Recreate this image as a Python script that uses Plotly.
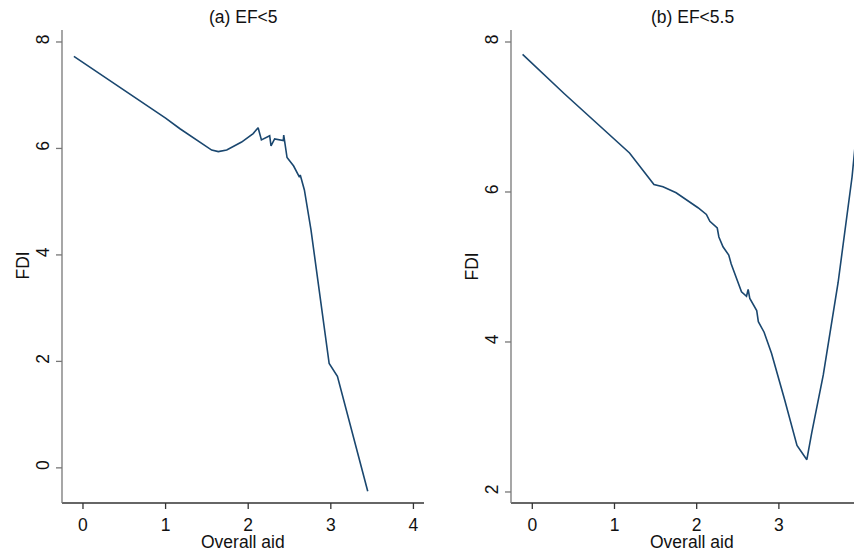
import plotly.graph_objects as go

# Panel (a) EF<5
aid_a = [-0.11, 1.0, 1.174, 1.558, 1.638, 1.74, 1.92, 2.06, 2.12, 2.16, 2.26, 2.276, 2.32,
         2.425, 2.43, 2.44, 2.47, 2.55, 2.61, 2.62, 2.63, 2.68, 2.76, 2.87, 2.98, 3.08, 3.447]
fdi_a = [7.73, 6.57, 6.37, 5.97, 5.94, 5.97, 6.12, 6.28, 6.39, 6.16, 6.24, 6.05, 6.18,
         6.15, 6.25, 6.14, 5.83, 5.67, 5.50, 5.46, 5.50, 5.22, 4.47, 3.21, 1.96, 1.72, -0.44]

# Panel (b) EF<5.5
aid_b = [-0.118, 0.39, 1.183, 1.48, 1.59, 1.75, 2.016, 2.118, 2.16, 2.25, 2.27, 2.32, 2.39,
         2.42, 2.545, 2.606, 2.626, 2.646, 2.73, 2.75, 2.82, 2.91, 3.07, 3.22, 3.34, 3.40,
         3.54, 3.72, 3.89, 4.02]
fdi_b = [7.835, 7.31, 6.52, 6.10, 6.07, 5.99, 5.79, 5.70, 5.61, 5.52, 5.40, 5.27, 5.16,
         5.04, 4.67, 4.61, 4.70, 4.58, 4.42, 4.27, 4.13, 3.85, 3.23, 2.62, 2.43, 2.79,
         3.56, 4.79, 6.20, 7.66]

titles = ["(a) EF<5", "(b) EF<5.5"]
x_title = "Overall aid"
y_title = "FDI"
x_ticks = [0, 1, 2, 3, 4]
y_ticks_a = [0, 2, 4, 6, 8]
y_ticks_b = [2, 4, 6, 8]

# axis extents (frame) of each panel
xext_a, yext_a = [-0.254, 4.128], [-0.66, 8.225]
xext_b, yext_b = [-0.259, 4.011], [1.853, 8.16]

OFF = 8          # page body margin
W, H = 862 - OFF, 554 - OFF
E = 8            # extra plot room (px) left of / below each frame for outside ticks
FX_A, FR_A = 62, 424    # frame left/right page x, panel a
FX_B, FR_B = 511, 862   # panel b
FT, FB = 30, 503        # frame top/bottom page y

ML, MR, MT = FX_A - E - OFF, 0, FT - OFF
MB = H - (FB + E - OFF)
PW, PH = W - ML - MR, H - MT - MB
LINE = "#1a476f"
FONT = "Liberation Sans, Arial, sans-serif"
FS = 17.5
XCOL, YCOL = "#333333", "#777777"
TL = 6           # tick length px


def ppx(v):
    return (v - OFF - ML) / PW


def ppy(v):
    return 1 - (v - OFF - MT) / PH


def extended(xext, yext, fx, fr):
    ux = (xext[1] - xext[0]) / (fr - fx)
    uy = (yext[1] - yext[0]) / (FB - FT)
    return [xext[0] - E * ux, xext[1]], [yext[0] - E * uy, yext[1]], ux, uy


xr_a, yr_a, ux_a, uy_a = extended(xext_a, yext_a, FX_A, FR_A)
xr_b, yr_b, ux_b, uy_b = extended(xext_b, yext_b, FX_B, FR_B)

fig = go.Figure()
fig.add_trace(go.Scatter(x=aid_a, y=fdi_a, mode="lines", line=dict(color=LINE, width=1.6),
                         xaxis="x", yaxis="y", showlegend=False, hoverinfo="skip"))
fig.add_trace(go.Scatter(x=aid_b, y=fdi_b, mode="lines", line=dict(color=LINE, width=1.6),
                         xaxis="x2", yaxis="y2", showlegend=False, hoverinfo="skip"))


def frame(xa, ya, xext, yext, yt, ux, uy):
    x0, y0 = xext[0], yext[0]
    # x axis line + ticks
    hx, hy = [x0, xext[1] + 1], [y0, y0]
    for v in x_ticks:
        hx += [None, v, v]
        hy += [None, y0, y0 - TL * uy]
    fig.add_trace(go.Scatter(x=hx, y=hy, mode="lines", line=dict(color=XCOL, width=1.3),
                             xaxis=xa, yaxis=ya, showlegend=False, hoverinfo="skip"))
    # y axis line + ticks
    vx, vy = [x0, x0], [y0, yext[1] + 1]
    for v in yt:
        vx += [None, x0, x0 - TL * ux]
        vy += [None, v, v]
    fig.add_trace(go.Scatter(x=vx, y=vy, mode="lines", line=dict(color=YCOL, width=1.3),
                             xaxis=xa, yaxis=ya, showlegend=False, hoverinfo="skip"))


frame("x", "y", xext_a, yext_a, y_ticks_a, ux_a, uy_a)
frame("x2", "y2", xext_b, yext_b, y_ticks_b, ux_b, uy_b)

common_x = dict(showgrid=False, zeroline=False, showline=False,
                ticks="outside", ticklen=TL, tickcolor="rgba(0,0,0,0)", tickvals=x_ticks,
                ticklabelstandoff=-E, ticklabeloverflow="allow", automargin=False,
                tickfont=dict(size=FS, color="#111", family=FONT))
common_y = dict(showgrid=False, zeroline=False, showline=False,
                ticks="outside", ticklen=TL, tickcolor="rgba(0,0,0,0)", tickangle=-90,
                ticklabelstandoff=-E - 1, automargin=False,
                tickfont=dict(size=FS, color="#111", family=FONT))

tfont = dict(size=FS, color="#111", family=FONT)
annotations = [
    dict(text=titles[0], x=ppx(243), y=ppy(17)),
    dict(text=titles[1], x=ppx(692), y=ppy(17)),
    dict(text=x_title, x=ppx(243), y=ppy(542)),
    dict(text=x_title, x=ppx(692), y=ppy(542)),
    dict(text=y_title, x=ppx(22.5), y=ppy(266), textangle=-90),
    dict(text=y_title, x=ppx(471.5), y=ppy(266), textangle=-90),
]
for a in annotations:
    a.update(xref="paper", yref="paper", showarrow=False, font=tfont,
             xanchor="center", yanchor="middle")

fig.update_layout(
    width=W, height=H, margin=dict(l=ML, r=MR, t=MT, b=MB, pad=0),
    paper_bgcolor="white", plot_bgcolor="white",
    font=dict(family=FONT, color="#111"),
    xaxis=dict(common_x, domain=[0, (FR_A - (FX_A - E)) / PW], range=xr_a, anchor="y"),
    yaxis=dict(common_y, domain=[0, 1], range=yr_a, tickvals=y_ticks_a, anchor="x"),
    xaxis2=dict(common_x, domain=[(FX_B - E - (FX_A - E)) / PW, 1.0], range=xr_b, anchor="y2"),
    yaxis2=dict(common_y, domain=[0, 1], range=yr_b, tickvals=y_ticks_b, anchor="x2"),
    annotations=annotations,
)

fig.write_html("out.html")
